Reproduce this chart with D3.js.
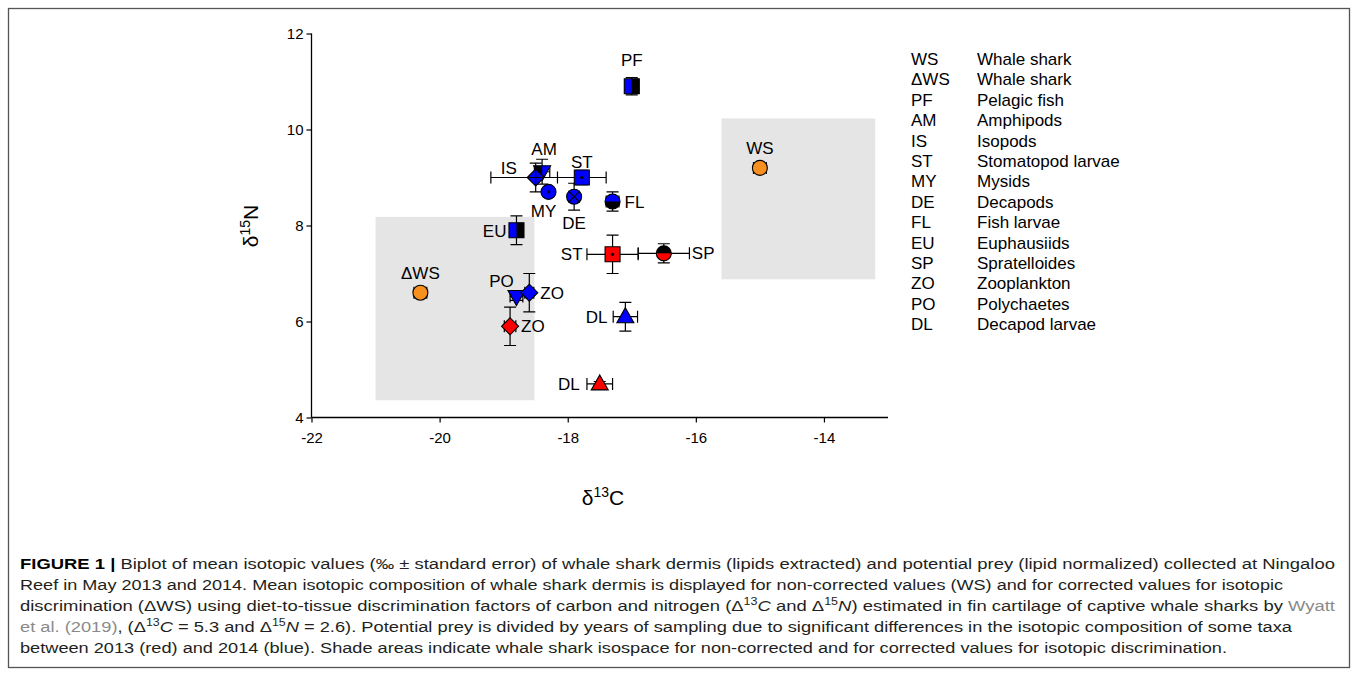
<!DOCTYPE html>
<html>
<head>
<meta charset="utf-8">
<script src="https://cdn.jsdelivr.net/npm/d3@7"></script>
<style>
  html, body { margin: 0; padding: 0; background: #fff; }
  svg { display: block; font-family: "Liberation Sans", Arial, sans-serif; }
</style>
</head>
<body>
<svg id="chart" width="1358" height="676"></svg>
<script>
// ---------- data ----------
const labels  = ["WS", "ΔWS", "PF", "AM", "IS", "ST", "MY", "DE", "FL", "EU", "ST", "SP", "PO", "ZO", "ZO", "DL", "DL"];
const group   = ["WS", "WS", "2014", "2014", "2014", "2014", "2014", "2014", "2014", "2014", "2013", "2013", "2014", "2014", "2013", "2014", "2013"];
const d13C    = [-15.0, -20.3, -17.0, -18.4, -18.5, -17.78, -18.3, -17.9, -17.3, -18.8, -17.3, -16.5, -18.8, -18.6, -18.9, -17.1, -17.5];
const d15N    = [9.2, 6.6, 10.9, 9.12, 9.0, 9.0, 8.7, 8.6, 8.5, 7.9, 7.4, 7.42, 6.52, 6.6, 5.9, 6.1, 4.7];
const errC    = [0.1, 0.1, 0.1, 0.12, 0.7, 0.38, 0.05, 0.08, 0.1, 0.05, 0.4, 0.4, 0.1, 0.07, 0.09, 0.19, 0.2];
const errN    = [0.08, 0.08, 0.18, 0.26, 0.3, 0.15, 0.05, 0.28, 0.2, 0.3, 0.4, 0.2, 0.08, 0.4, 0.4, 0.3, 0.05];
const shapes  = ["circle", "circle", "square", "triDown", "diamond", "square", "circle", "circle", "circle", "square", "square", "circle", "triDown", "diamond", "diamond", "triUp", "triUp"];
const variant = ["plain", "plain", "rightBlack", "leftBlack", "plus", "dot", "dot", "x", "bottomBlack", "rightBlack", "dot", "topBlack", "plain", "plain", "plain", "plain", "plain"];
// label placement relative to the marker: [anchor, dx, dy] in px
const labelPlace = [["middle",0,-20],["middle",0,-20],["middle",0,-26],["middle",2,-23],["middle",-27,-10],["middle",0,-16],
  ["middle",-5,19],["middle",0,26],["start",12,0],["end",-10,1],["end",-30,0],["start",28,0],["middle",-15,-16],
  ["start",11,0],["start",11,0],["end",-18,0],["end",-20,0]];

// shaded isospace boxes [x0, x1, y0, y1]
const boxC0 = [-15.6, -21.0];
const boxC1 = [-13.2, -18.52];
const boxN0 = [6.88, 4.36];
const boxN1 = [10.23, 8.18];

const xTicks = [-22, -20, -18, -16, -14];
const yTicks = [4, 6, 8, 10, 12];

const legendCodes = ["WS", "ΔWS", "PF", "AM", "IS", "ST", "MY", "DE", "FL", "EU", "SP", "ZO", "PO", "DL"];
const legendNames = ["Whale shark", "Whale shark", "Pelagic fish", "Amphipods", "Isopods", "Stomatopod larvae", "Mysids",
  "Decapods", "Fish larvae", "Euphausiids", "Spratelloides", "Zooplankton", "Polychaetes", "Decapod larvae"];

const colors = { "WS": "#f7901e", "2014": "#0000ff", "2013": "#ff0000" };

// ---------- drawing ----------
const svg = d3.select("#chart");
svg.append("rect").attr("x", 8.5).attr("y", 8.5).attr("width", 1341).attr("height", 659)
  .attr("fill", "none").attr("stroke", "#555").attr("stroke-width", 1.3);

const x = d3.scaleLinear().domain([-22, -13]).range([311.5, 888]);
const y = d3.scaleLinear().domain([4, 12]).range([417.5, 33.5]);

// shaded boxes
svg.append("g").selectAll("rect").data(boxC0.map((d, i) => i)).join("rect")
  .attr("x", i => x(boxC0[i])).attr("width", i => x(boxC1[i]) - x(boxC0[i]))
  .attr("y", i => y(boxN1[i])).attr("height", i => y(boxN0[i]) - y(boxN1[i]))
  .attr("fill", "#e5e5e5");

// axes
const xAxis = svg.append("g").attr("transform", `translate(0,${y(4)})`)
  .call(d3.axisBottom(x).tickValues(xTicks).tickSize(5).tickPadding(10).tickFormat(d => String(d).replace("−", "-")));
const yAxis = svg.append("g").attr("transform", `translate(${x(-22)},0)`)
  .call(d3.axisLeft(y).tickValues(yTicks).tickSize(5).tickPadding(3).tickFormat(d3.format("d")));
[xAxis, yAxis].forEach(a => {
  a.select(".domain").attr("stroke", "#000").attr("stroke-width", 1.3);
  a.selectAll(".tick line").attr("stroke", "#000").attr("stroke-width", 1.2);
  a.selectAll(".tick text").attr("font-size", 15).attr("fill", "#000")
    .attr("font-family", "Liberation Sans, Arial, sans-serif");
});
xAxis.select(".domain").attr("d", `M${x(-22)},0H${x(-13)}`);
yAxis.select(".domain").attr("d", `M0,${y(12)}V${y(4)}`);

// axis titles
const xt = svg.append("text").attr("x", 603).attr("y", 505).attr("text-anchor", "middle").attr("font-size", 21);
xt.append("tspan").text("δ");
xt.append("tspan").attr("font-size", 14).attr("dy", -8).text("13");
xt.append("tspan").attr("dy", 8).text("C");
const yt = svg.append("text").attr("transform", "translate(258,226) rotate(-90)").attr("text-anchor", "middle").attr("font-size", 21);
yt.append("tspan").text("δ");
yt.append("tspan").attr("font-size", 14).attr("dy", -8).text("15");
yt.append("tspan").attr("dy", 8).text("N");

// error bars
const idx = labels.map((d, i) => i);
const cap = 6;
const eb = svg.append("g").attr("stroke", "#000").attr("stroke-width", 1.2).attr("fill", "none");
idx.forEach(i => {
  const cx = x(d13C[i]), cy = y(d15N[i]);
  const xl = x(d13C[i] - errC[i]), xr = x(d13C[i] + errC[i]);
  const yt2 = y(d15N[i] + errN[i]), yb = y(d15N[i] - errN[i]);
  eb.append("path").attr("d",
    `M${xl},${cy}H${xr}M${xl},${cy - cap}V${cy + cap}M${xr},${cy - cap}V${cy + cap}` +
    `M${cx},${yt2}V${yb}M${cx - cap},${yt2}H${cx + cap}M${cx - cap},${yb}H${cx + cap}`);
});

// marker shapes
function shapePath(s) {
  const r = 7.5;
  if (s === "circle") return `M${r},0A${r},${r} 0 1,1 ${-r},0A${r},${r} 0 1,1 ${r},0Z`;
  if (s === "square") return `M${-r},${-r}H${r}V${r}H${-r}Z`;
  if (s === "diamond") return `M0,-8.5L8.5,0L0,8.5L-8.5,0Z`;
  if (s === "triUp") return `M0,-9L8.5,6L-8.5,6Z`;
  if (s === "triDown") return `M0,9L8.5,-6L-8.5,-6Z`;
}
const defs = svg.append("defs");
const mk = svg.append("g");
idx.forEach(i => {
  const g = mk.append("g").attr("transform", `translate(${x(d13C[i])},${y(d15N[i])})`);
  const p = shapePath(shapes[i]);
  const col = colors[group[i]];
  g.append("path").attr("d", p).attr("fill", col);
  const v = variant[i];
  if (["rightBlack", "leftBlack", "bottomBlack", "topBlack"].includes(v)) {
    const id = "clip" + i;
    defs.append("clipPath").attr("id", id).append("path").attr("d", p);
    const rect = { rightBlack: [0, -10, 10, 20], leftBlack: [-10, -10, 10, 20],
                   bottomBlack: [-10, 0, 20, 10], topBlack: [-10, -10, 20, 10] }[v];
    g.append("rect").attr("x", rect[0]).attr("y", rect[1]).attr("width", rect[2]).attr("height", rect[3])
      .attr("fill", "#000").attr("clip-path", `url(#${id})`);
  }
  g.append("path").attr("d", p).attr("fill", "none").attr("stroke", "#000").attr("stroke-width", 1.1);
  if (v === "dot") g.append("circle").attr("r", 1.6).attr("fill", "#000");
  if (v === "plus") g.append("path").attr("d", "M-8.5,0H8.5M0,-8.5V8.5").attr("stroke", "#000").attr("stroke-width", 1);
  if (v === "x") g.append("path").attr("d", "M-5.3,-5.3L5.3,5.3M-5.3,5.3L5.3,-5.3").attr("stroke", "#000").attr("stroke-width", 1.1);
});

// point labels
svg.append("g").selectAll("text").data(idx).join("text")
  .attr("x", i => x(d13C[i]) + labelPlace[i][1])
  .attr("y", i => y(d15N[i]) + labelPlace[i][2])
  .attr("dy", "0.36em")
  .attr("text-anchor", i => labelPlace[i][0])
  .attr("font-size", 17).attr("fill", "#000")
  .text(i => labels[i]);

// legend
const lg = svg.append("g").attr("font-size", 17).attr("fill", "#000");
legendCodes.forEach((c, i) => {
  lg.append("text").attr("x", 911).attr("y", 65 + i * 20.4).text(c);
  lg.append("text").attr("x", 977).attr("y", 65 + i * 20.4).text(legendNames[i]);
});

// caption
const capLines = [
  [[["FIGURE 1 | ", {bold: true}], ["Biplot of mean isotopic values (‰ ± standard error) of whale shark dermis (lipids extracted) and potential prey (lipid normalized) collected at Ningaloo"]], 1315],
  [[["Reef in May 2013 and 2014. Mean isotopic composition of whale shark dermis is displayed for non-corrected values (WS) and for corrected values for isotopic"]], 1263],
  [[["discrimination (ΔWS) using diet-to-tissue discrimination factors of carbon and nitrogen (Δ"], ["13", {sup: true}], ["C", {italic: true}], [" and Δ"], ["15", {sup: true}], ["N", {italic: true}], [") estimated in fin cartilage of captive whale sharks by "], ["Wyatt", {grey: true}]], 1315],
  [[["et al. (2019)", {grey: true}], [", (Δ"], ["13", {sup: true}], ["C", {italic: true}], [" = 5.3 and Δ"], ["15", {sup: true}], ["N", {italic: true}], [" = 2.6). Potential prey is divided by years of sampling due to significant differences in the isotopic composition of some taxa"]], 1272],
  [[["between 2013 (red) and 2014 (blue). Shade areas indicate whale shark isospace for non-corrected and for corrected values for isotopic discrimination."]], 1207]
];
const cg = svg.append("g").attr("font-size", 15.5).attr("fill", "#231f20");
capLines.forEach((ln, li) => {
  const t = cg.append("text").attr("x", 20).attr("y", 569 + li * 21)
    .attr("textLength", ln[1]).attr("lengthAdjust", "spacingAndGlyphs");
  let shifted = false;
  ln[0].forEach(([s, o]) => {
    o = o || {};
    const ts = t.append("tspan").text(s);
    if (o.bold) ts.attr("font-weight", "bold").attr("fill", "#000");
    if (o.italic) ts.attr("font-style", "italic");
    if (o.grey) ts.attr("fill", "#8a8a8a");
    if (o.sup) { ts.attr("font-size", 10.5).attr("dy", -6); shifted = true; }
    else if (shifted) { ts.attr("dy", 6); shifted = false; }
  });
});
</script>
</body>
</html>
